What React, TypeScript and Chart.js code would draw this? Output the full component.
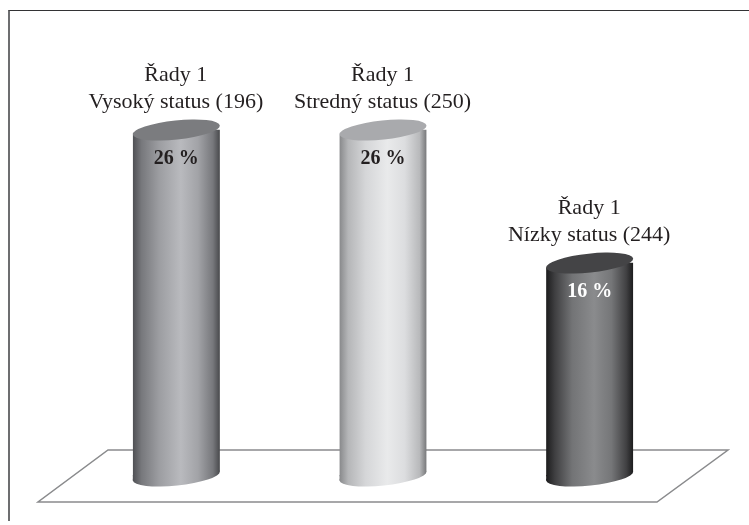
import React, { useEffect, useRef } from "react";
import { Chart, registerables } from "chart.js";

Chart.register(...registerables);

const categories = ["Vysoký status (196)", "Stredný status (250)", "Nízky status (244)"];
const seriesName = "Řady 1";
const values = [26, 26, 16];
const valueLabels = ["26 %", "26 %", "16 %"];
const valueColors = ["#231f20", "#231f20", "#ffffff"];
const gradientStops = [0, 0.1, 0.3, 0.55, 0.75, 0.92, 1];
const gradients = [
  ["#4f5054", "#77787c", "#9c9da1", "#b9babe", "#a2a3a7", "#77787c", "#48494c"],
  ["#88898b", "#b5b6b8", "#d5d6d8", "#e9eaeb", "#dcdddf", "#b8b9bb", "#77787a"],
  ["#1c1c1d", "#3f3f41", "#737476", "#8a8b8d", "#757678", "#414143", "#1c1c1d"],
];
const topColors = ["#7b7c7f", "#a9aaad", "#444446"];
const SERIF = '"Liberation Serif", serif';
const TILT = (-6 * Math.PI) / 180;
const MINOR = 9.5;
const RISE = 4.5;

function grad(ctx: CanvasRenderingContext2D, left: number, right: number, stops: string[]) {
  const g = ctx.createLinearGradient(left, 0, right, 0);
  stops.forEach((c, i) => g.addColorStop(gradientStops[i], c));
  return g;
}

const cylinder = {
  id: "cylinder",
  beforeDatasetsDraw(chart: any) {
    const { ctx } = chart;
    const base = chart.scales.y.getPixelForValue(0);
    ctx.save();
    ctx.strokeStyle = "#8a8b8d";
    ctx.lineWidth = 1.5;
    ctx.beginPath();
    ctx.moveTo(108, base - 26);
    ctx.lineTo(728, base - 26);
    ctx.lineTo(657, base + 26);
    ctx.lineTo(38, base + 26);
    ctx.closePath();
    ctx.stroke();
    ctx.restore();
  },
  beforeDatasetDraw(chart: any) {
    const { ctx } = chart;
    const meta = chart.getDatasetMeta(0);
    ctx.save();
    const clip = new Path2D();
    meta.data.forEach((bar: any, i: number) => {
      const hw = bar.width / 2;
      const fill = grad(ctx, bar.x - hw, bar.x + hw, gradients[i]);
      bar.options = { ...bar.options, backgroundColor: fill };
      ctx.fillStyle = fill;
      // foot: the ellipse plus the wedge that joins it to the square bar end
      ctx.beginPath();
      ctx.ellipse(bar.x, bar.base, hw + 0.25, MINOR, TILT, 0, Math.PI * 2);
      ctx.fill();
      ctx.beginPath();
      ctx.moveTo(bar.x - hw, bar.base - 1);
      ctx.lineTo(bar.x, bar.base - 1);
      ctx.lineTo(bar.x, bar.base + 2);
      ctx.lineTo(bar.x - hw, bar.base + RISE);
      ctx.closePath();
      ctx.fill();
      clip.moveTo(bar.x - hw, bar.y + RISE);
      clip.lineTo(bar.x + hw, bar.y - RISE);
      clip.lineTo(bar.x + hw, bar.base - RISE);
      clip.lineTo(bar.x - hw, bar.base + RISE);
      clip.closePath();
    });
    ctx.clip(clip);
  },
  afterDatasetDraw(chart: any) {
    chart.ctx.restore();
  },
  afterDatasetsDraw(chart: any) {
    const { ctx } = chart;
    const meta = chart.getDatasetMeta(0);
    meta.data.forEach((bar: any, i: number) => {
      const hw = bar.width / 2;
      ctx.save();
      ctx.fillStyle = topColors[i];
      ctx.beginPath();
      ctx.ellipse(bar.x, bar.y, hw + 0.25, MINOR, TILT, 0, Math.PI * 2);
      ctx.fill();
      ctx.fillStyle = valueColors[i];
      ctx.font = `bold 20px ${SERIF}`;
      ctx.textAlign = "center";
      ctx.textBaseline = "alphabetic";
      ctx.fillText(valueLabels[i], bar.x, bar.y + 34);
      ctx.fillStyle = "#231f20";
      ctx.font = `22px ${SERIF}`;
      ctx.fillText(seriesName, bar.x - 0.5, bar.y - 49);
      ctx.fillText(categories[i], bar.x - 0.5, bar.y - 22);
      ctx.restore();
    });
  },
};

export default function App() {
  const ref = useRef<HTMLCanvasElement>(null);
  useEffect(() => {
    document.body.style.margin = "0";
    document.body.style.background = "#fff";
    const chart = new Chart(ref.current!, {
      type: "bar",
      data: {
        labels: categories,
        datasets: [
          {
            label: seriesName,
            data: values,
            barThickness: 87,
            backgroundColor: "#999999",
            borderWidth: 0,
            clip: false,
          },
        ],
      },
      options: {
        responsive: false,
        animation: false,
        layout: { padding: { left: 73, right: 56, top: 130, bottom: 49 } },
        plugins: { legend: { display: false }, tooltip: { enabled: false } },
        scales: {
          x: { display: false },
          y: { display: false, min: 0, max: 26 },
        },
      },
      plugins: [cylinder],
    });
    return () => chart.destroy();
  }, []);
  return (
    <div style={{ position: "relative", width: 749, height: 525, overflow: "hidden" }}>
      <canvas ref={ref} width={749} height={525} style={{ display: "block" }} />
      <div
        style={{
          position: "absolute",
          left: 8,
          top: 10,
          width: 760,
          height: 510,
          borderTop: "1.5px solid #333335",
          borderLeft: "2px solid #6d6e70",
          pointerEvents: "none",
        }}
      />
    </div>
  );
}
